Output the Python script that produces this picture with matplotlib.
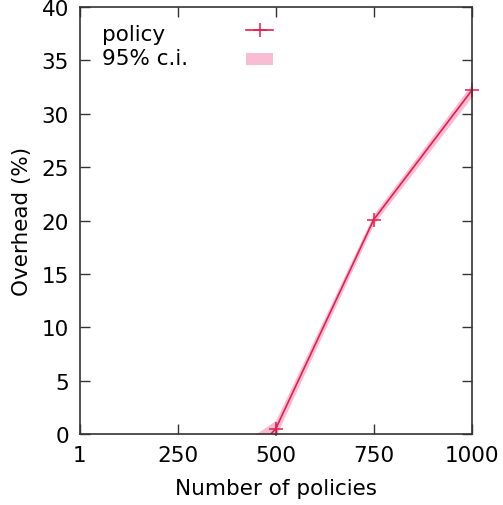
import matplotlib.pyplot as plt
from matplotlib.patches import Patch
from matplotlib.lines import Line2D

# values
policies = [250, 500, 750, 1000]
overhead = [-9.5, 0.5, 20.1, 32.2]
ci_low = [-11.0, -0.2, 19.7, 31.6]
ci_high = [-5.0, 1.3, 20.6, 32.8]

x_ticks = [1, 250, 500, 750, 1000]
y_ticks = [0, 5, 10, 15, 20, 25, 30, 35, 40]
legend_labels = ['policy', '95% c.i.']

line_color = '#e61e4b'
band_color = '#f8bcd3'
font_size = 15.5


def plot_overhead():
    """gnuplot-looking overhead plot with a confidence band"""
    plt.rcParams['font.family'] = 'DejaVu Sans'
    fig = plt.figure(figsize=(5.03, 5.06), dpi=100)
    ax = fig.add_axes([0.159, 0.140, 0.779, 0.844])

    ax.fill_between(policies, ci_low, ci_high, color=band_color, linewidth=0)
    ax.plot(policies, overhead, color=line_color, linewidth=1.2)
    # markers are not clipped so the one at 1000 sticks out past the border
    ax.plot(policies, overhead, linestyle='none', color=line_color, marker='+',
            markersize=10, markeredgewidth=1.1, markevery=[1, 2, 3], clip_on=False)

    ax.set_xlim(1, 1000)
    ax.set_ylim(0, 40)
    ax.set_xticks(x_ticks)
    ax.set_yticks(y_ticks)
    ax.tick_params(direction='in', top=True, right=True, length=7, width=1,
                   labelsize=font_size, pad=8, color='#333333')
    for spine in ax.spines.values():
        spine.set_color('#333333')
        spine.set_linewidth(1.2)

    ax.set_xlabel('Number of policies', fontsize=font_size, labelpad=9)
    ax.set_ylabel('Overhead (%)', fontsize=font_size, labelpad=7)

    # gnuplot key: text on the left, samples on the right
    ax.text(0.056, 0.937, legend_labels[0], transform=ax.transAxes,
            fontsize=font_size, va='center', ha='left')
    ax.text(0.056, 0.881, legend_labels[1], transform=ax.transAxes,
            fontsize=font_size, va='center', ha='left')
    handles = [Line2D([], [], color=line_color, linewidth=1.2, marker='+',
                      markersize=10, markeredgewidth=1.1),
               Patch(facecolor=band_color, edgecolor='none')]
    ax.legend(handles, ['', ''], loc='center', bbox_to_anchor=(0.459, 0.909),
              frameon=False, fontsize=font_size, handlelength=1.25,
              handleheight=0.5, handletextpad=0, borderpad=0, labelspacing=0.45)

    fig.savefig('out.png', dpi=100)


if __name__ == "__main__":
    plot_overhead()
